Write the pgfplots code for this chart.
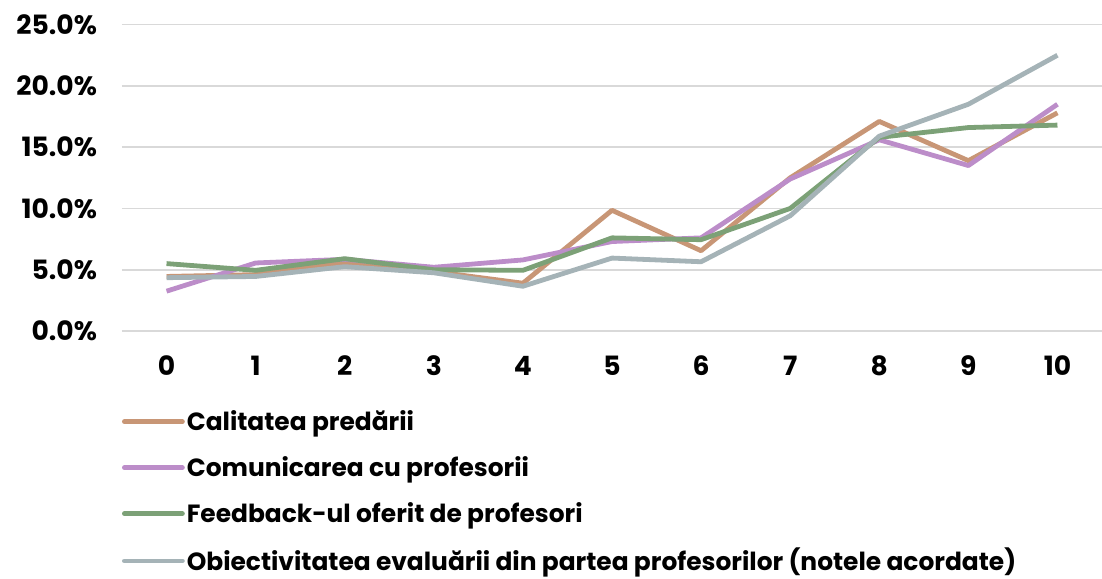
\documentclass[border=0pt]{standalone}
\usepackage{fontspec}
\setmainfont{Poppins}
\usepackage{pgfplots}
\pgfplotsset{compat=1.18}
\definecolor{cOr}{RGB}{200,150,118}
\definecolor{cPu}{RGB}{188,141,201}
\definecolor{cGr}{RGB}{124,161,119}
\definecolor{cGy}{RGB}{165,179,183}
\definecolor{cGrid}{RGB}{217,217,217}
\begin{document}
\begin{tikzpicture}
\useasboundingbox (-61pt,-123.5pt) rectangle (490pt,165.5pt);
\begin{axis}[
  scale only axis,
  width=490pt, height=153.2pt,
  at={(0pt,0pt)}, anchor=south west,
  xmin=-0.5, xmax=10.5, ymin=0, ymax=25,
  axis line style={draw=none},
  tick style={draw=none},
  xtick={0,...,10},
  ytick={0,5,10,15,20,25},
  ymajorgrids,
  grid style={cGrid, line width=0.8pt},
  /pgf/number format/assume math mode=true,
  yticklabel={\pgfmathprintnumber[fixed,fixed zerofill,precision=1]{\tick}\%},
  xticklabel={\pgfmathprintnumber{\tick}},
  ticklabel style={font=\fontsize{13.3}{15}\selectfont\bfseries},
  yticklabel style={xshift=-9pt},
  xticklabel style={yshift=-9pt},
  every axis plot/.append style={line width=2.4pt, line join=round},
  legend cell align=left,
  legend style={at={(axis description cs:0,-0.252)}, anchor=north west, draw=none, fill=none,
    inner sep=0pt, outer sep=0pt, row sep=9.5pt,
    font=\fontsize{12.45}{14}\selectfont\bfseries,
    nodes={inner sep=1pt}},
  legend image code/.code={\draw[#1, line width=2.4pt, line cap=round] (0pt,0pt) -- (29pt,0pt);},
]
\addplot[cOr] coordinates {(0,4.45)(1,4.6)(2,5.6)(3,4.85)(4,3.9)(5,9.85)(6,6.55)(7,12.5)(8,17.1)(9,13.9)(10,17.8)};
\addlegendentry{Calitatea predării}
\addplot[cPu] coordinates {(0,3.25)(1,5.55)(2,5.85)(3,5.2)(4,5.8)(5,7.3)(6,7.6)(7,12.4)(8,15.6)(9,13.5)(10,18.5)};
\addlegendentry{Comunicarea cu profesorii}
\addplot[cGr] coordinates {(0,5.5)(1,4.95)(2,5.9)(3,5.0)(4,4.95)(5,7.6)(6,7.45)(7,10.0)(8,15.8)(9,16.6)(10,16.8)};
\addlegendentry{Feedback-ul oferit de profesori}
\addplot[cGy] coordinates {(0,4.35)(1,4.45)(2,5.25)(3,4.75)(4,3.65)(5,5.95)(6,5.65)(7,9.4)(8,15.9)(9,18.5)(10,22.5)};
\addlegendentry{Obiectivitatea evaluării din partea profesorilor (notele acordate)}
\end{axis}
\end{tikzpicture}
\end{document}
